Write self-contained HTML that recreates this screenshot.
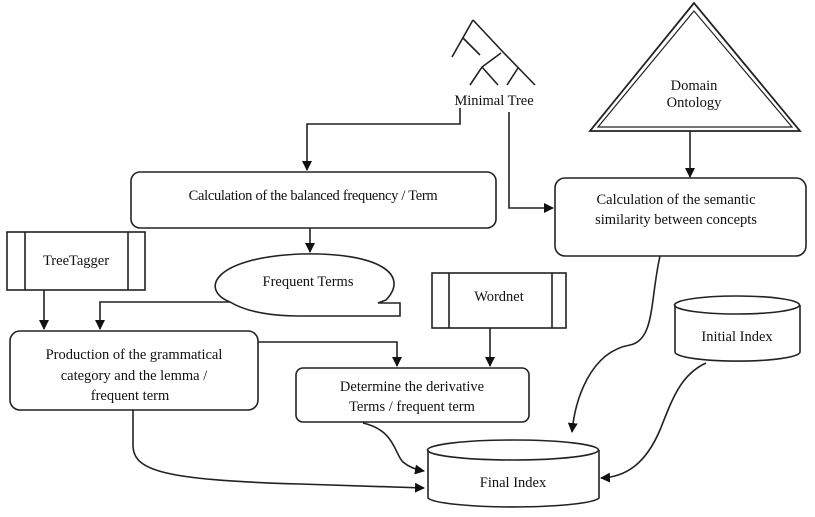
<!DOCTYPE html><html><head><style>body{margin:0;background:#fff}svg{display:block}text{font-family:"Liberation Serif",serif;font-size:14.5px;fill:#111}</style></head><body>
<svg width="815" height="517" viewBox="0 0 815 517" xmlns="http://www.w3.org/2000/svg">
<defs><marker id="a" markerWidth="10" markerHeight="10" refX="9" refY="5" orient="auto" markerUnits="userSpaceOnUse"><path d="M0,0 L10,5 L0,10z" fill="#111"/></marker></defs>
<g stroke="#222" stroke-width="1.6" fill="none">
<!-- tree -->
<path d="M473,20 L452,57 M473,20 L503,52 L535,85 M463,38 L480,55 M501,53 L482,67 L470,85 M482,67 L498,85 M518,68 L507,85"/>
<!-- triangle -->
<path d="M694,3 L590,131 L800,131Z" stroke-width="1.8"/>
<path d="M694,11 L598,127 L792,127Z" stroke-width="1.2"/>
<!-- boxes -->
<rect x="131" y="172" width="365" height="56" rx="9"/>
<rect x="555" y="178" width="251" height="78" rx="10"/>
<rect x="10" y="331" width="248" height="79" rx="10"/>
<rect x="296" y="368" width="233" height="54" rx="7"/>
<rect x="7" y="232" width="138" height="58"/><path d="M25,232V290M128,232V290"/>
<rect x="432" y="273" width="134" height="55"/><path d="M449,273V328M552,273V328"/>
<!-- frequent terms -->
<path d="M230,302 C200,290 212,258 300,254 C380,252 410,275 386,300 L378,303 L400,303 L400,316 L300,316 C260,316 240,308 230,302Z"/>
<!-- cylinders -->
<path d="M428,450 V498 A86,10 0 0 0 599,498 V450"/><ellipse cx="513" cy="450" rx="85.5" ry="10"/>
<path d="M675,305 V352 A62,9 0 0 0 800,352 V305"/><ellipse cx="737" cy="305" rx="62.5" ry="9"/>
<!-- connectors -->
<path d="M460,108 V124 H307 V170" marker-end="url(#a)"/>
<path d="M509,112 V208 H553" marker-end="url(#a)"/>
<path d="M690,131 V177" marker-end="url(#a)"/>
<path d="M310,228 V252" marker-end="url(#a)"/>
<path d="M44,290 V329" marker-end="url(#a)"/>
<path d="M230,302 H100 V329" marker-end="url(#a)"/>
<path d="M258,342 H397 V366" marker-end="url(#a)"/>
<path d="M490,328 V366" marker-end="url(#a)"/>
<path d="M363,423 C395,430 395,455 403,462 C410,468 418,470 424,471" marker-end="url(#a)"/>
<path d="M133,410 V445 C133,470 160,480 300,484 L424,488" marker-end="url(#a)"/>
<path d="M660,256 C650,300 655,340 630,345 C590,352 575,400 572,432" marker-end="url(#a)"/>
<path d="M706,363 C680,375 672,400 660,430 C645,465 625,477 601,478" marker-end="url(#a)"/>
</g>
<text x="494" y="105" text-anchor="middle">Minimal Tree</text>
<text x="694" y="90" text-anchor="middle">Domain</text>
<text x="694" y="107" text-anchor="middle">Ontology</text>
<text x="313" y="200" text-anchor="middle" style="letter-spacing:-0.3px">Calculation of the balanced frequency / Term</text>
<text x="676" y="204" text-anchor="middle">Calculation of the semantic</text>
<text x="676" y="224" text-anchor="middle">similarity between concepts</text>
<text x="76" y="265" text-anchor="middle">TreeTagger</text>
<text x="308" y="286" text-anchor="middle">Frequent Terms</text>
<text x="499" y="301" text-anchor="middle">Wordnet</text>
<text x="134" y="359" text-anchor="middle">Production of the grammatical</text>
<text x="134" y="380" text-anchor="middle">category and the lemma /</text>
<text x="130" y="400" text-anchor="middle">frequent term</text>
<text x="412" y="391" text-anchor="middle">Determine the derivative</text>
<text x="412" y="411" text-anchor="middle">Terms / frequent term</text>
<text x="737" y="341" text-anchor="middle">Initial Index</text>
<text x="513" y="487" text-anchor="middle">Final Index</text>
</svg></body></html>
